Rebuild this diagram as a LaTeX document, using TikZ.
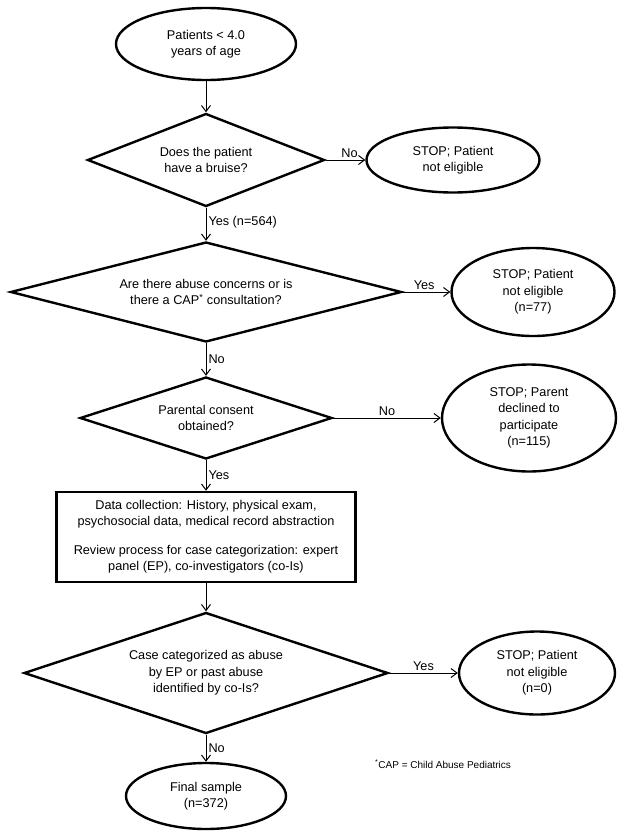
\documentclass[tikz,border=0pt]{standalone}
\usepackage{fontspec}
\setmainfont{Liberation Sans}
\usetikzlibrary{shapes.geometric,arrows.meta}
\begin{document}
\begin{tikzpicture}[x=1bp,y=-1bp,
  base/.style={font=\fontsize{12.7bp}{16.3bp}\selectfont, align=center, inner sep=0pt},
  term/.style={base, ellipse, draw, line width=2.4bp},
  decision/.style={base, diamond, draw, line width=2.4bp},
  procbox/.style={base, rectangle, draw, line width=2.4bp},
  conn/.style={line width=1bp, -{Straight Barb[length=6bp,width=9bp]}},
  lbl/.style={font=\fontsize{12.7bp}{15bp}\selectfont, inner sep=2bp}
]
\useasboundingbox (0,0) rectangle (624,838);

\node[term, minimum width=180bp, minimum height=72bp] (start) at (206,44) {Patients < 4.0\\years of age};
\node[decision, minimum width=237bp, minimum height=93bp, shape aspect=2.55] (d1) at (206,160) {Does the patient\\have a bruise?};
\node[term, minimum width=173bp, minimum height=65bp] (s1) at (453,160) {STOP; Patient\\not eligible};
\node[decision, minimum width=391bp, minimum height=100bp, shape aspect=3.9] (d2) at (206,292) {Are there abuse concerns or is\\there a CAP\textsuperscript{*} consultation?};
\node[term, minimum width=163bp, minimum height=88bp] (s2) at (533,292) {STOP; Patient\\not eligible\\(n=77)};
\node[decision, minimum width=252bp, minimum height=82bp, shape aspect=3.07] (d3) at (206,418) {Parental consent\\obtained?};
\node[term, minimum width=174bp, minimum height=107bp] (s3) at (529,418) {STOP; Parent\\declined to\\participate\\(n=115)};
\node[procbox, minimum width=299bp, minimum height=90bp] (box) at (206,537) {Data collection: History, physical exam,\\psychosocial data, medical record abstraction\\[12.5bp]Review process for case categorization: expert\\panel (EP), co-investigators (co-Is)};
\node[decision, minimum width=364bp, minimum height=121bp, shape aspect=3] (d4) at (206,673) {Case categorized as abuse\\by EP or past abuse\\identified by co-Is?};
\node[term, minimum width=156bp, minimum height=83bp] (s4) at (537,673) {STOP; Patient\\not eligible\\(n=0)};
\node[term, minimum width=160bp, minimum height=66bp] (final) at (206,796) {Final sample\\(n=372)};
\node[base, font=\fontsize{10bp}{12bp}\selectfont, anchor=west] (note) at (375,764) {\textsuperscript{*}CAP = Child Abuse Pediatrics};

\draw[conn] (start.south) -- (d1.north);
\draw[conn] (d1.east) -- node[lbl, above, pos=0.6] {No} (s1.west);
\draw[conn] (d1.south) -- node[lbl, right, pos=0.45] {Yes (n=564)} (d2.north);
\draw[conn] (d2.east) -- node[lbl, above, pos=0.45] {Yes} (s2.west);
\draw[conn] (d2.south) -- node[lbl, right] {No} (d3.north);
\draw[conn] (d3.east) -- node[lbl, above] {No} (s3.west);
\draw[conn] (d3.south) -- node[lbl, right] {Yes} (box.north);
\draw[conn] (box.south) -- (d4.north);
\draw[conn] (d4.east) -- node[lbl, above] {Yes} (s4.west);
\draw[conn] (d4.south) -- node[lbl, right] {No} (final.north);
\end{tikzpicture}
\end{document}
